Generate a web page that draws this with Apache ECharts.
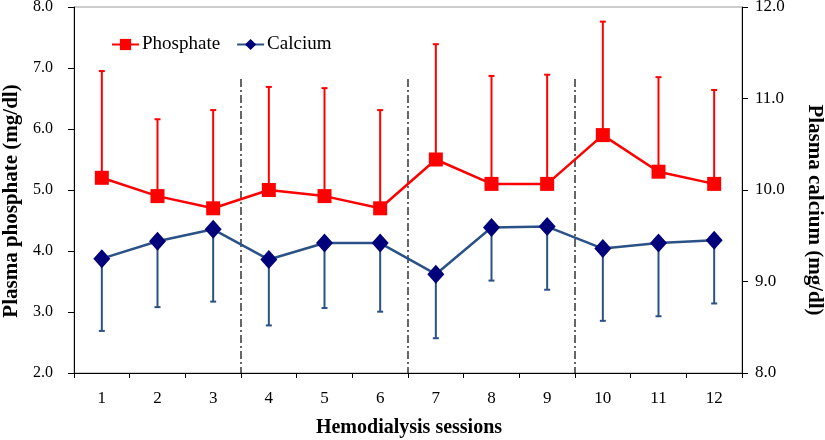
<!DOCTYPE html>
<html><head><meta charset="utf-8">
<script src="https://cdn.jsdelivr.net/npm/echarts@6/dist/echarts.min.js"></script>
<style>html,body{margin:0;padding:0;background:#fff}#c{width:825px;height:440px}</style>
</head><body><div id="c"></div>
<script>
var sessions = ['1','2','3','4','5','6','7','8','9','10','11','12'];
var phosphate = [5.2, 4.9, 4.7, 5.0, 4.9, 4.7, 5.5, 5.1, 5.1, 5.9, 5.3, 5.1];
var phosphateUpper = [6.95, 6.16, 6.31, 6.69, 6.67, 6.31, 7.39, 6.87, 6.89, 7.76, 6.85, 6.64];
var calcium = [9.25, 9.44, 9.57, 9.24, 9.42, 9.42, 9.08, 9.59, 9.60, 9.36, 9.42, 9.45];
var calciumLower = [8.46, 8.72, 8.78, 8.52, 8.71, 8.67, 8.38, 9.01, 8.91, 8.57, 8.62, 8.76];
var dividerAfter = [3, 6, 9];   // dividers between sessions 3|4, 6|7, 9|10
var dividerTop = 6.82;          // top of dividers, phosphate scale

var RED = '#FF0000', BLUE_LINE = '#2A5286', BLUE_MARK = '#00007A';
var serif = 'Liberation Serif';

function errData(vals, bounds) {
  return vals.map(function (v, i) { return [i, v, bounds[i]]; });
}
function errRender(color) {
  return function (params, api) {
    var x = api.value(0);
    var p1 = api.coord([x, api.value(1)]);
    var p2 = api.coord([x, api.value(2)]);
    var hw = 3;
    return {
      type: 'group',
      children: [
        { type: 'line', shape: { x1: p1[0], y1: p1[1], x2: p2[0], y2: p2[1] }, style: { stroke: color, lineWidth: 2 } },
        { type: 'line', shape: { x1: p2[0] - hw, y1: p2[1], x2: p2[0] + hw, y2: p2[1] }, style: { stroke: color, lineWidth: 2 } }
      ]
    };
  };
}

var chart = echarts.init(document.getElementById('c'));
chart.setOption({
  animation: false,
  grid: { left: 74, right: 83, top: 7, bottom: 67, show: true, borderColor: '#9a9a9a', borderWidth: 1, outerBoundsMode: 'none' },
  legend: {
    left: 106, top: 30, itemGap: 16, itemWidth: 27, itemHeight: 14,
    textStyle: { fontFamily: serif, fontSize: 19, color: '#000', padding: [0, 0, 0, -2] },
    data: ['Phosphate', 'Calcium']
  },
  graphic: [
    { type: 'text', x: 12, y: 201, rotation: Math.PI / 2,
      style: { text: 'Plasma phosphate (mg/dl)', font: 'bold 21px "Liberation Serif"', fill: '#000', align: 'center', verticalAlign: 'middle' } },
    { type: 'text', x: 814, y: 210, rotation: -Math.PI / 2,
      style: { text: 'Plasma calcium (mg/dl)', font: 'bold 21px "Liberation Serif"', fill: '#000', align: 'center', verticalAlign: 'middle' } },
    { type: 'text', x: 409, y: 428,
      style: { text: 'Hemodialysis sessions', font: 'bold 20px "Liberation Serif"', fill: '#000', align: 'center', verticalAlign: 'middle' } }
  ],
  xAxis: {
    type: 'category', data: sessions, boundaryGap: true,
    axisLine: { lineStyle: { color: '#000', width: 1 } },
    axisTick: { show: true, alignWithLabel: false, length: 5, lineStyle: { color: '#000' } },
    axisLabel: { fontFamily: serif, fontSize: 17, color: '#000', margin: 17 }
  },
  yAxis: [
    {
      type: 'value', min: 2, max: 8, interval: 1, position: 'left',
      axisLine: { show: true, lineStyle: { color: '#000' } },
      axisTick: { show: true, length: 6, lineStyle: { color: '#000' } },
      splitLine: { show: false },
      axisLabel: { fontFamily: serif, fontSize: 16, color: '#000', margin: 21, formatter: function (v) { return v.toFixed(1); } }
    },
    {
      type: 'value', min: 8, max: 12, interval: 1, position: 'right',
      axisLine: { show: true, lineStyle: { color: '#000' } },
      axisTick: { show: true, length: 6, lineStyle: { color: '#000' } },
      splitLine: { show: false },
      axisLabel: { fontFamily: serif, fontSize: 17, color: '#000', margin: 13, formatter: function (v) { return v.toFixed(1); } }
    }
  ],
  series: [
    {
      type: 'custom', yAxisIndex: 0, silent: true, z: 1,
      data: dividerAfter.map(function (d) { return [d, dividerTop]; }),
      renderItem: function (params, api) {
        var idx = api.value(0);
        var top = api.coord([idx, api.value(1)]);
        var bot = api.coord([idx, 2]);
        var half = api.size([1, 0])[0] / 2;
        var x = top[0] - half;
        return { type: 'line', shape: { x1: x, y1: top[1], x2: x, y2: bot[1] }, style: { stroke: '#000', lineWidth: 1.2, lineDash: [8, 3, 2, 3] } };
      }
    },
    {
      type: 'custom', yAxisIndex: 0, silent: true, z: 2,
      data: errData(phosphate, phosphateUpper), renderItem: errRender(RED)
    },
    {
      type: 'custom', yAxisIndex: 1, silent: true, z: 2,
      data: errData(calcium, calciumLower), renderItem: errRender(BLUE_LINE)
    },
    {
      name: 'Phosphate', type: 'line', yAxisIndex: 0, data: phosphate, z: 3,
      symbol: 'rect', symbolSize: 14,
      lineStyle: { color: RED, width: 2.5 }, itemStyle: { color: RED }
    },
    {
      name: 'Calcium', type: 'line', yAxisIndex: 1, data: calcium, z: 3,
      symbol: 'diamond', symbolSize: [17, 19],
      lineStyle: { color: BLUE_LINE, width: 2.5 }, itemStyle: { color: BLUE_MARK }
    }
  ]
});
</script></body></html>
